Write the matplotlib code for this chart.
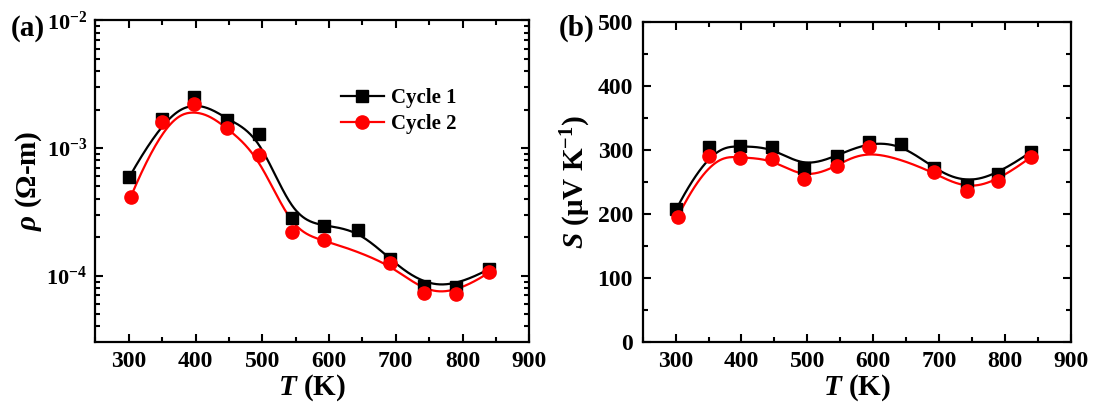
import numpy as np
import matplotlib
matplotlib.use("Agg")
import matplotlib.pyplot as plt
from matplotlib.ticker import LogLocator, NullFormatter, FuncFormatter, MultipleLocator
from matplotlib.lines import Line2D

plt.rcParams['font.family'] = ['Liberation Serif', 'DejaVu Serif']
plt.rcParams['font.weight'] = 'bold'
plt.rcParams['mathtext.fontset'] = 'custom'
plt.rcParams['mathtext.rm'] = 'Liberation Serif:bold'
plt.rcParams['mathtext.bf'] = 'Liberation Serif:bold'
plt.rcParams['mathtext.it'] = 'Liberation Serif:italic:bold'
plt.rcParams['mathtext.bfit'] = 'Liberation Serif:italic:bold'

# ---- data ----
T1 = [301, 350, 398, 447, 495, 545, 593, 643, 692, 742, 790, 840]
rho1 = [5.96e-4, 1.69e-3, 2.52e-3, 1.67e-3, 1.30e-3, 2.81e-4, 2.46e-4, 2.28e-4,
        1.34e-4, 8.3e-5, 8.2e-5, 1.13e-4]
T2 = [303, 350, 398, 447, 495, 545, 593, 692, 742, 790, 840]
rho2 = [4.16e-4, 1.59e-3, 2.21e-3, 1.44e-3, 8.8e-4, 2.19e-4, 1.90e-4, 1.26e-4,
        7.27e-5, 7.2e-5, 1.06e-4]
S1 = [207, 304, 306, 304, 272, 291, 312, 309, 271, 245, 262, 297]
S2 = [195, 291, 288, 286, 254, 274, 304, 266, 235, 251, 289]
labels = ['Cycle 1', 'Cycle 2']
colors = ['black', 'red']


def bspline(cx, cy, k=3, num=400):
    cx = np.asarray(cx, float); cy = np.asarray(cy, float)
    n = len(cx)
    t = np.concatenate([np.zeros(k), np.arange(n - k + 1), np.full(k, n - k)]).astype(float)
    u = np.linspace(0, n - k, num)
    u[-1] -= 1e-9
    N = np.zeros((num, len(t) - 1))
    for i in range(len(t) - 1):
        N[:, i] = ((t[i] <= u) & (u < t[i + 1])).astype(float)
    for d in range(1, k + 1):
        Nn = np.zeros((num, len(t) - 1 - d))
        for i in range(len(t) - 1 - d):
            a = t[i + d] - t[i]
            b = t[i + d + 1] - t[i + 1]
            term = np.zeros(num)
            if a > 0:
                term += (u - t[i]) / a * N[:, i]
            if b > 0:
                term += (t[i + d + 1] - u) / b * N[:, i + 1]
            Nn[:, i] = term
        N = Nn
    return N @ cx, N @ cy


fig = plt.figure(figsize=(10.96, 4.09), dpi=100)
axa = fig.add_axes([0.0871, 0.165, 0.3958, 0.785])
axb = fig.add_axes([0.5864, 0.165, 0.3905, 0.781])

# panel a (spline in log space)
for T, r, c, m, z in [(T1, rho1, colors[0], 's', 2), (T2, rho2, colors[1], 'o', 3)]:
    sx, sy = bspline(T, np.log10(r))
    axa.plot(sx, 10 ** sy, color=c, lw=1.6, zorder=z)
    axa.plot(T, r, ls='none', marker=m, color=c, ms=9.5 if m == 'o' else 8.5, zorder=z + 2)
axa.set_yscale('log')
axa.set_ylim(3.05e-5, 1e-2)
axa.yaxis.set_major_locator(LogLocator(base=10, numticks=10))
axa.yaxis.set_minor_locator(LogLocator(base=10, subs=np.arange(2, 10), numticks=20))
axa.yaxis.set_minor_formatter(NullFormatter())
axa.yaxis.set_major_formatter(FuncFormatter(lambda v, p: r'$\mathbf{10^{%d}}$' % int(round(np.log10(v)))))
axa.set_ylabel(r'$\mathbfit{\rho}$ ($\mathbf{\Omega}$-m)', fontsize=21, fontweight='bold', labelpad=2)

# panel b
for T, s, c, m, z in [(T1, S1, colors[0], 's', 2), (T2, S2, colors[1], 'o', 3)]:
    sx, sy = bspline(T, s)
    axb.plot(sx, sy, color=c, lw=1.6, zorder=z)
    axb.plot(T, s, ls='none', marker=m, color=c, ms=9.5 if m == 'o' else 8.5, zorder=z + 2)
axb.set_ylim(0, 500)
axb.yaxis.set_major_locator(MultipleLocator(100))
axb.yaxis.set_minor_locator(MultipleLocator(50))
axb.set_ylabel(r'$\mathbfit{S}$ ($\mathbf{\mu}$V K$^{\mathbf{-1}}$)', fontsize=21, fontweight='bold', labelpad=3)

for ax in (axa, axb):
    ax.set_xlim(250, 900)
    ax.xaxis.set_major_locator(MultipleLocator(100))
    ax.xaxis.set_minor_locator(MultipleLocator(50))
    ax.set_xlabel(r'$\mathbfit{T}$ (K)', fontsize=21, fontweight='bold', labelpad=0)
    ax.tick_params(which='both', direction='in', top=True, right=True, width=1.5)
    ax.tick_params(which='major', length=6, labelsize=17, pad=7)
    ax.tick_params(which='minor', length=3.5)
    for sp in ax.spines.values():
        sp.set_linewidth(1.6)
    for lab in ax.get_xticklabels() + ax.get_yticklabels():
        lab.set_fontweight('bold')
axa.tick_params(axis='y', which='major', labelsize=16, pad=6)

handles = [Line2D([], [], color=colors[0], marker='s', ms=8.5, lw=1.6),
           Line2D([], [], color=colors[1], marker='o', ms=9.5, lw=1.6)]
axa.legend(handles, labels, loc='upper left', bbox_to_anchor=(0.565, 0.79), frameon=False,
           prop={'family': 'Liberation Serif', 'weight': 'bold', 'size': 15},
           handlelength=2.1, handletextpad=0.3, labelspacing=0.3, borderpad=0, borderaxespad=0)

fig.text(11 / 1096, 1 - 28 / 409, '(a)', fontsize=21, fontweight='bold', va='center', ha='left')
fig.text(559 / 1096, 1 - 28 / 409, '(b)', fontsize=21, fontweight='bold', va='center', ha='left')

fig.savefig('out.png', dpi=100)
